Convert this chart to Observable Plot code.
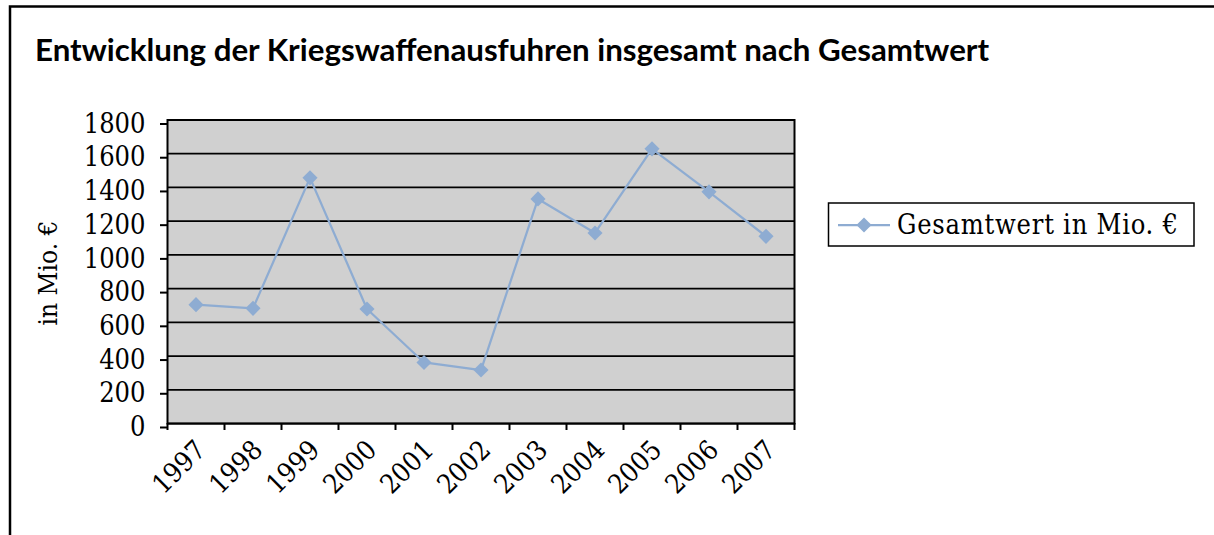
<!DOCTYPE html>
<html>
<head>
<meta charset="utf-8">
<script src="https://cdn.jsdelivr.net/npm/d3@7"></script>
<script src="https://cdn.jsdelivr.net/npm/@observablehq/plot@0.6"></script>
<style>
  html, body { margin: 0; padding: 0; background: white; }
  #chart svg { display: block; }
</style>
</head>
<body>
<div id="chart"></div>
<script>
const titleText = "Entwicklung der Kriegswaffenausfuhren insgesamt nach Gesamtwert";
const yLabel = "in Mio. €";
const seriesName = "Gesamtwert in Mio. €";
const years = ["1997", "1998", "1999", "2000", "2001", "2002", "2003", "2004", "2005", "2006", "2007"];
const values = [705, 683, 1457, 679, 362, 317, 1332, 1130, 1629, 1374, 1110];
const yTicks = [0, 200, 400, 600, 800, 1000, 1200, 1400, 1600, 1800];

const lineColor = "#8eacd2";
const serif = "'DejaVu Serif Condensed', 'DejaVu Serif', serif";
const fs = 27;

const data = years.map((year, i) => ({year, i, value: values[i]}));
const center = d => d.i + 0.5;

const chart = Plot.plot({
  width: 1214,
  height: 535,
  marginLeft: 167,
  marginRight: 420,
  marginTop: 119.5,
  marginBottom: 112,
  style: {fontFamily: serif, fontSize: fs + "px", color: "black", background: "white", overflow: "visible"},
  x: {domain: [0, years.length]},
  y: {domain: [0, 1800]},
  marks: [
    Plot.frame({fill: "#d0d0d0"}),
    Plot.ruleY(yTicks, {stroke: "black", strokeWidth: 1.75}),
    Plot.frame({stroke: "black", strokeWidth: 2}),
    Plot.axisY({ticks: yTicks, tickSize: 7, tickPadding: 15, strokeWidth: 2, tickFormat: d => String(d), fontSize: fs, dy: 4, label: null}),
    Plot.axisX({ticks: d3.range(years.length + 1), tickSize: 7, strokeWidth: 2, tickFormat: () => "", label: null}),
    Plot.axisX({ticks: years.map((_, i) => i + 0.5), tickSize: 0, tickPadding: 22, tickRotate: -45, fontSize: fs, dx: 5,
      tickFormat: v => years[Math.floor(v)], label: null}),
    Plot.line(data, {x: center, y: "value", stroke: lineColor, strokeWidth: 2.25}),
    Plot.dot(data, {x: center, y: "value", symbol: "diamond2", r: 6.8, fill: lineColor, stroke: null})
  ]
});
document.getElementById("chart").appendChild(chart);

const svg = d3.select(chart);

// outer border (left and top)
svg.append("path")
  .attr("d", "M10,535V6.5H1214")
  .attr("fill", "none").attr("stroke", "black").attr("stroke-width", 2.5);

// title fitted to reference width
const titleFont = "Lato, 'Open Sans', sans-serif";
const ctx = document.createElement("canvas").getContext("2d");
ctx.font = `bold 24px ${titleFont}`;
const w24 = ctx.measureText(titleText).width;
const titleSize = 24 * 955 / w24;
svg.append("text")
  .attr("x", 35).attr("y", 61)
  .attr("text-anchor", "start")
  .attr("font-family", titleFont).attr("font-weight", "bold")
  .attr("font-size", titleSize).attr("fill", "black")
  .text(titleText);

// y axis label
svg.append("text")
  .attr("transform", "translate(57,273) rotate(-90)")
  .attr("text-anchor", "middle")
  .attr("font-family", serif).attr("font-size", 26).attr("fill", "black")
  .text(yLabel);

// legend
const lg = svg.append("g");
lg.append("rect").attr("x", 828.5).attr("y", 203).attr("width", 365.5).attr("height", 43)
  .attr("fill", "white").attr("stroke", "black").attr("stroke-width", 1.5);
lg.append("line").attr("x1", 838).attr("x2", 890).attr("y1", 225).attr("y2", 225)
  .attr("stroke", lineColor).attr("stroke-width", 2.25);
lg.append("path").attr("transform", "translate(864,225)")
  .attr("d", d3.symbol(d3.symbolDiamond2, Math.PI * 6.8 * 6.8)())
  .attr("fill", lineColor);
lg.append("text").attr("x", 897).attr("y", 234)
  .attr("text-anchor", "start")
  .attr("textLength", 281).attr("lengthAdjust", "spacing")
  .attr("font-family", serif).attr("font-size", 27).attr("fill", "black")
  .text(seriesName);
</script>
</body>
</html>
